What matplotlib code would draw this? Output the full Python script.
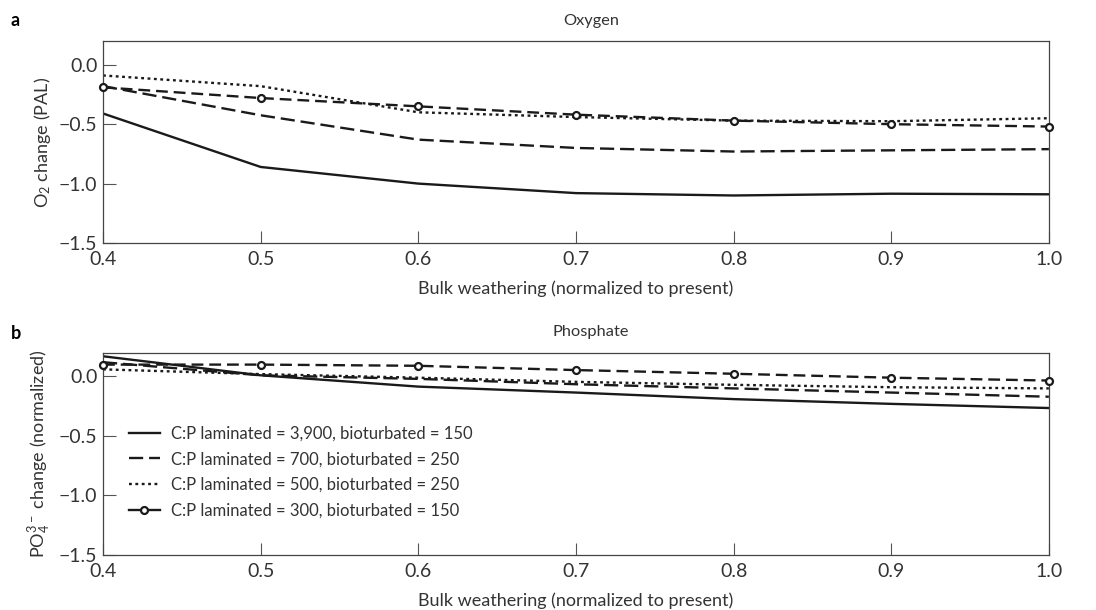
import numpy as np
import matplotlib
matplotlib.use("Agg")
import matplotlib.pyplot as plt
from matplotlib.lines import Line2D

plt.rcParams["font.family"] = ["Lato", "DejaVu Sans"]
plt.rcParams["mathtext.default"] = "regular"

weathering = [0.4, 0.5, 0.6, 0.7, 0.8, 0.9, 1.0]

labels = [
    "C:P laminated = 3,900, bioturbated = 150",
    "C:P laminated = 700, bioturbated = 250",
    "C:P laminated = 500, bioturbated = 250",
    "C:P laminated = 300, bioturbated = 150",
]

# O2 change (PAL)
o2_3900 = [-0.41, -0.86, -1.00, -1.08, -1.10, -1.085, -1.09]
o2_700 = [-0.18, -0.425, -0.63, -0.70, -0.73, -0.72, -0.71]
o2_500 = [-0.09, -0.18, -0.40, -0.44, -0.47, -0.475, -0.45]
o2_300 = [-0.19, -0.28, -0.35, -0.42, -0.47, -0.50, -0.52]

# PO4 change (normalized)
po4_3900 = [0.17, 0.01, -0.085, -0.135, -0.19, -0.23, -0.265]
po4_700 = [0.12, 0.01, -0.02, -0.065, -0.10, -0.135, -0.17]
po4_500 = [0.06, 0.02, -0.01, -0.045, -0.07, -0.09, -0.10]
po4_300 = [0.10, 0.10, 0.09, 0.054, 0.023, -0.01, -0.034]

TXT = "#333333"
LW = 1.7

fig = plt.figure(figsize=(10.96, 6.10), dpi=100)
ax_a = fig.add_axes([0.094, 0.6016, 0.863, 0.3312])
ax_b = fig.add_axes([0.094, 0.0902, 0.863, 0.3316])


def draw(ax, s1, s2, s3, s4):
    ax.plot(weathering, s1, color="#1a1a1a", lw=LW)
    ax.plot(weathering, s2, color="#1a1a1a", lw=LW, dashes=(6, 2.5))
    ax.plot(weathering, s3, color="#1a1a1a", lw=LW, dashes=(1.2, 1.5))
    ax.plot(weathering, s4, color="#1a1a1a", lw=LW, dashes=(5, 2.5),
            marker="o", ms=5, mfc="white", mec="#1a1a1a", mew=1.6,
            clip_on=False, zorder=5)

    ax.set_xlim(0.4, 1.0)
    ax.set_ylim(-1.5, 0.2)
    ax.set_xticks([0.4, 0.5, 0.6, 0.7, 0.8, 0.9, 1.0])
    ax.set_yticks([0.0, -0.5, -1.0, -1.5])
    ax.set_yticklabels(["0.0", "\u22120.5", "\u22121.0", "\u22121.5"])
    ax.tick_params(direction="in", length=9, width=0.8, color="#555555",
                   labelsize=14, labelcolor=TXT, pad=4)
    ax.tick_params(axis="x", pad=6)
    for sp in ax.spines.values():
        sp.set_color("#444444")
        sp.set_linewidth(0.9)
    ax.set_xlabel("Bulk weathering (normalized to present)", fontsize=13,
                  color=TXT, labelpad=9)


draw(ax_a, o2_3900, o2_700, o2_500, o2_300)
draw(ax_b, po4_3900, po4_700, po4_500, po4_300)

ax_a.set_ylabel("O$_2$ change (PAL)", fontsize=13, color=TXT, labelpad=4)
ax_b.set_ylabel("PO$_4^{3-}$ change (normalized)", fontsize=13, color=TXT,
                labelpad=4)

ax_a.text(0.516, 1.10, "Oxygen", transform=ax_a.transAxes, ha="center",
          va="center", fontsize=11.8, color=TXT)
ax_b.text(0.516, 1.10, "Phosphate", transform=ax_b.transAxes, ha="center",
          va="center", fontsize=11.8, color=TXT)

fig.text(0.010, 0.966, "a", fontsize=13, fontweight="bold", va="center")
fig.text(0.010, 0.454, "b", fontsize=13, fontweight="bold", va="center")

handles = [
    Line2D([], [], color="#1a1a1a", lw=LW),
    Line2D([], [], color="#1a1a1a", lw=LW, dashes=(6, 2.5)),
    Line2D([], [], color="#1a1a1a", lw=LW, dashes=(1.2, 1.5)),
    Line2D([], [], color="#1a1a1a", lw=LW, marker="o", ms=5, mfc="white",
           mec="#1a1a1a", mew=1.6),
]
leg = ax_b.legend(handles, labels, loc="upper left",
                  bbox_to_anchor=(0.0275, 0.64), frameon=False,
                  borderaxespad=0, borderpad=0, fontsize=12,
                  handlelength=1.85, handletextpad=0.65, labelspacing=0.58)
for t in leg.get_texts():
    t.set_color(TXT)

fig.savefig("out.png", dpi=100)
